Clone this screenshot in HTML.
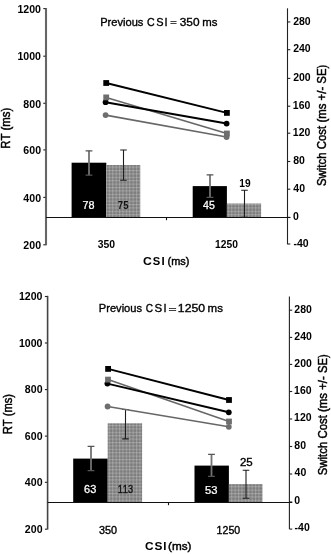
<!DOCTYPE html>
<html><head><meta charset="utf-8"><style>
html,body{margin:0;padding:0;background:#fff;width:331px;height:554px;overflow:hidden}
svg{display:block;will-change:transform}
text{font-family:"Liberation Sans", sans-serif;font-kerning:none}
</style></head><body>
<svg width="331" height="554" viewBox="0 0 331 554">
<defs>
<pattern id="dots" width="3.4" height="3.4" patternUnits="userSpaceOnUse">
<rect width="3.4" height="3.4" fill="#7c7c7c"/>
<rect width="1.1" height="3.4" fill="#9a9a9a"/>
<rect width="3.4" height="1.1" fill="#9a9a9a"/>
<rect width="1.1" height="1.1" fill="#b0b0b0"/>
</pattern>
</defs>
<line x1="46.00" y1="8.00" x2="46.00" y2="245.30" stroke="#666" stroke-width="2.1"/>
<line x1="43.30" y1="8.60" x2="45.50" y2="8.60" stroke="#222" stroke-width="1.1"/>
<text transform="translate(17.45 12.80) scale(1.0600 1)" font-size="10" font-weight="bold" fill="#000">1200</text>
<line x1="43.30" y1="56.20" x2="45.50" y2="56.20" stroke="#222" stroke-width="1.1"/>
<text transform="translate(17.45 60.40) scale(1.0600 1)" font-size="10" font-weight="bold" fill="#000">1000</text>
<line x1="43.30" y1="103.30" x2="45.50" y2="103.30" stroke="#222" stroke-width="1.1"/>
<text transform="translate(23.35 107.50) scale(1.0600 1)" font-size="10" font-weight="bold" fill="#000">800</text>
<line x1="43.30" y1="149.90" x2="45.50" y2="149.90" stroke="#222" stroke-width="1.1"/>
<text transform="translate(23.35 154.10) scale(1.0600 1)" font-size="10" font-weight="bold" fill="#000">600</text>
<line x1="43.30" y1="197.40" x2="45.50" y2="197.40" stroke="#222" stroke-width="1.1"/>
<text transform="translate(23.35 201.60) scale(1.0600 1)" font-size="10" font-weight="bold" fill="#000">400</text>
<line x1="43.30" y1="244.80" x2="45.50" y2="244.80" stroke="#222" stroke-width="1.1"/>
<text transform="translate(23.35 249.00) scale(1.0600 1)" font-size="10" font-weight="bold" fill="#000">200</text>
<line x1="287.50" y1="8.30" x2="287.50" y2="244.30" stroke="#222" stroke-width="1.1"/>
<line x1="287.50" y1="21.95" x2="290.30" y2="21.95" stroke="#222" stroke-width="1.1"/>
<text transform="translate(293.14 24.55) scale(1.0500 1)" font-size="10" font-weight="bold" fill="#000">280</text>
<line x1="287.50" y1="49.70" x2="290.30" y2="49.70" stroke="#222" stroke-width="1.1"/>
<text transform="translate(293.14 52.30) scale(1.0500 1)" font-size="10" font-weight="bold" fill="#000">240</text>
<line x1="287.50" y1="78.40" x2="290.30" y2="78.40" stroke="#222" stroke-width="1.1"/>
<text transform="translate(293.14 81.00) scale(1.0500 1)" font-size="10" font-weight="bold" fill="#000">200</text>
<line x1="287.50" y1="106.20" x2="290.30" y2="106.20" stroke="#222" stroke-width="1.1"/>
<text transform="translate(292.84 108.80) scale(1.0500 1)" font-size="10" font-weight="bold" fill="#000">160</text>
<line x1="287.50" y1="133.20" x2="290.30" y2="133.20" stroke="#222" stroke-width="1.1"/>
<text transform="translate(292.84 135.80) scale(1.0500 1)" font-size="10" font-weight="bold" fill="#000">120</text>
<line x1="287.50" y1="161.50" x2="290.30" y2="161.50" stroke="#222" stroke-width="1.1"/>
<text transform="translate(293.17 164.10) scale(1.0500 1)" font-size="10" font-weight="bold" fill="#000">80</text>
<line x1="287.50" y1="189.20" x2="290.30" y2="189.20" stroke="#222" stroke-width="1.1"/>
<text transform="translate(293.34 191.80) scale(1.0500 1)" font-size="10" font-weight="bold" fill="#000">40</text>
<line x1="287.50" y1="217.40" x2="290.30" y2="217.40" stroke="#222" stroke-width="1.1"/>
<text transform="translate(293.08 220.00) scale(1.0500 1)" font-size="10" font-weight="bold" fill="#000">0</text>
<line x1="287.50" y1="244.00" x2="290.30" y2="244.00" stroke="#222" stroke-width="1.1"/>
<text transform="translate(293.39 246.60) scale(1.0500 1)" font-size="10" font-weight="bold" fill="#000">-40</text>
<rect x="71.60" y="162.70" width="34.70" height="54.80" fill="#000"/>
<rect x="106.40" y="165.00" width="33.90" height="52.50" fill="url(#dots)"/>
<rect x="192.70" y="186.10" width="34.20" height="31.40" fill="#000"/>
<rect x="226.90" y="203.50" width="34.20" height="14.00" fill="url(#dots)"/>
<line x1="46.00" y1="217.50" x2="290.30" y2="217.50" stroke="#111" stroke-width="1.1"/>
<line x1="166.50" y1="217.50" x2="166.50" y2="220.20" stroke="#111" stroke-width="1.1"/>
<path d="M89.0 150.8V175.2" stroke="#727272" stroke-width="1.8" fill="none"/>
<path d="M85.6 150.8H92.4M85.6 175.2H92.4" stroke="#555" stroke-width="1.3" fill="none"/>
<path d="M123.5 150.0V180.3M120.2 150.0H126.8M120.2 180.3H126.8" stroke="#1e1e1e" stroke-width="1.1" fill="none"/>
<path d="M210.0 174.8V197.4" stroke="#727272" stroke-width="1.8" fill="none"/>
<path d="M206.6 174.8H213.4M206.6 197.4H213.4" stroke="#555" stroke-width="1.3" fill="none"/>
<path d="M244.5 190.3V217.3M241.2 190.3H247.8M241.2 217.3H247.8" stroke="#1e1e1e" stroke-width="1.1" fill="none"/>
<line x1="106.20" y1="97.40" x2="226.90" y2="133.50" stroke="#676767" stroke-width="1.6"/>
<line x1="105.60" y1="115.10" x2="226.60" y2="137.00" stroke="#676767" stroke-width="1.6"/>
<line x1="106.20" y1="83.00" x2="226.90" y2="112.90" stroke="#000" stroke-width="2"/>
<line x1="105.60" y1="102.20" x2="226.60" y2="123.60" stroke="#000" stroke-width="2"/>
<circle cx="105.60" cy="102.20" r="2.9" fill="#000"/>
<circle cx="226.60" cy="123.60" r="2.9" fill="#000"/>
<circle cx="105.60" cy="115.10" r="2.9" fill="#6e6e6e"/>
<circle cx="226.60" cy="137.00" r="2.9" fill="#6e6e6e"/>
<rect x="103.30" y="80.10" width="5.80" height="5.80" fill="#000"/>
<rect x="224.00" y="110.00" width="5.80" height="5.80" fill="#000"/>
<rect x="103.30" y="94.50" width="5.80" height="5.80" fill="#6e6e6e"/>
<rect x="224.00" y="130.60" width="5.80" height="5.80" fill="#6e6e6e"/>
<text transform="translate(82.45 208.50) scale(1.0810 1.0)" font-size="10" font-weight="normal" fill="#fff" stroke="#fff" stroke-width="0.25">78</text>
<text transform="translate(117.79 208.60) scale(0.9602 1.0)" font-size="10" font-weight="bold" fill="#111">75</text>
<text transform="translate(203.06 208.70) scale(1.0598 1.0)" font-size="10" font-weight="normal" fill="#fff" stroke="#fff" stroke-width="0.25">45</text>
<text transform="translate(239.36 187.20) scale(1.0176 1.0)" font-size="10" font-weight="bold" fill="#000">19</text>
<text transform="translate(100.19 25.60) scale(1.0097 1.0)" font-size="11" font-weight="normal" fill="#000" stroke="#000" stroke-width="0.35">Previous</text>
<text transform="translate(146.96 25.60) scale(0.9618 1.0)" font-size="11" font-weight="normal" fill="#000" stroke="#000" stroke-width="0.35">C</text>
<text transform="translate(156.20 25.60) scale(0.9949 1.0)" font-size="11" font-weight="normal" fill="#000" stroke="#000" stroke-width="0.35">S</text>
<text transform="translate(164.62 25.60) scale(1.0000 1.0)" font-size="11" font-weight="normal" fill="#000" stroke="#000" stroke-width="0.35">I</text>
<text transform="translate(170.36 25.33) scale(1.0104 0.85)" font-size="11" font-weight="normal" fill="#000" stroke="#000" stroke-width="0.35">=</text>
<text transform="translate(179.75 25.60) scale(1.0797 1.0)" font-size="11" font-weight="normal" fill="#000" stroke="#000" stroke-width="0.35">350</text>
<text transform="translate(202.34 25.60) scale(1.0343 1.0)" font-size="11" font-weight="normal" fill="#000" stroke="#000" stroke-width="0.35">ms</text>
<text transform="translate(97.66 248.10) scale(1.0408 1.0)" font-size="10" font-weight="bold" fill="#000">350</text>
<text transform="translate(215.05 248.10) scale(1.0280 1.0)" font-size="10" font-weight="bold" fill="#000">1250</text>
<text transform="translate(143.10 265.00) scale(1.0640 1.0)" font-size="11.5" font-weight="bold" fill="#000">C</text>
<text transform="translate(152.68 265.00) scale(0.9724 1.0)" font-size="11.5" font-weight="bold" fill="#000">S</text>
<text transform="translate(161.50 265.00) scale(1.0000 1.0)" font-size="11.5" font-weight="bold" fill="#000">I</text>
<text transform="translate(167.62 265.00) scale(0.9507 1.0)" font-size="11.5" font-weight="normal" fill="#000" stroke="#000" stroke-width="0.45">(ms)</text>
<text transform="translate(9.60 148.73) rotate(-90) scale(0.9473 1)" font-size="12" font-weight="normal" fill="#000" stroke="#000" stroke-width="0.45">RT (ms)</text>
<text transform="translate(325.70 186.02) rotate(-90) scale(0.9518 1)" font-size="12" font-weight="normal" fill="#000" stroke="#000" stroke-width="0.45">Switch Cost (ms +/- SE)</text>
<line x1="47.60" y1="295.80" x2="47.60" y2="529.60" stroke="#444" stroke-width="1.6"/>
<line x1="44.90" y1="296.50" x2="47.10" y2="296.50" stroke="#222" stroke-width="1.1"/>
<text transform="translate(18.95 300.20) scale(1.0600 1)" font-size="10" font-weight="bold" fill="#000">1200</text>
<line x1="44.90" y1="343.00" x2="47.10" y2="343.00" stroke="#222" stroke-width="1.1"/>
<text transform="translate(18.95 346.70) scale(1.0600 1)" font-size="10" font-weight="bold" fill="#000">1000</text>
<line x1="44.90" y1="389.60" x2="47.10" y2="389.60" stroke="#222" stroke-width="1.1"/>
<text transform="translate(24.85 393.30) scale(1.0600 1)" font-size="10" font-weight="bold" fill="#000">800</text>
<line x1="44.90" y1="436.10" x2="47.10" y2="436.10" stroke="#222" stroke-width="1.1"/>
<text transform="translate(24.85 439.80) scale(1.0600 1)" font-size="10" font-weight="bold" fill="#000">600</text>
<line x1="44.90" y1="482.30" x2="47.10" y2="482.30" stroke="#222" stroke-width="1.1"/>
<text transform="translate(24.85 486.00) scale(1.0600 1)" font-size="10" font-weight="bold" fill="#000">400</text>
<line x1="44.90" y1="529.20" x2="47.10" y2="529.20" stroke="#222" stroke-width="1.1"/>
<text transform="translate(24.85 532.90) scale(1.0600 1)" font-size="10" font-weight="bold" fill="#000">200</text>
<line x1="289.40" y1="296.40" x2="289.40" y2="529.10" stroke="#222" stroke-width="1.1"/>
<line x1="289.40" y1="310.20" x2="292.20" y2="310.20" stroke="#222" stroke-width="1.1"/>
<text transform="translate(294.34 312.50) scale(1.0500 1)" font-size="10" font-weight="bold" fill="#000">280</text>
<line x1="289.40" y1="337.40" x2="292.20" y2="337.40" stroke="#222" stroke-width="1.1"/>
<text transform="translate(294.34 339.70) scale(1.0500 1)" font-size="10" font-weight="bold" fill="#000">240</text>
<line x1="289.40" y1="364.40" x2="292.20" y2="364.40" stroke="#222" stroke-width="1.1"/>
<text transform="translate(294.34 366.70) scale(1.0500 1)" font-size="10" font-weight="bold" fill="#000">200</text>
<line x1="289.40" y1="391.50" x2="292.20" y2="391.50" stroke="#222" stroke-width="1.1"/>
<text transform="translate(294.04 393.80) scale(1.0500 1)" font-size="10" font-weight="bold" fill="#000">160</text>
<line x1="289.40" y1="419.00" x2="292.20" y2="419.00" stroke="#222" stroke-width="1.1"/>
<text transform="translate(294.04 421.30) scale(1.0500 1)" font-size="10" font-weight="bold" fill="#000">120</text>
<line x1="289.40" y1="446.50" x2="292.20" y2="446.50" stroke="#222" stroke-width="1.1"/>
<text transform="translate(294.37 448.80) scale(1.0500 1)" font-size="10" font-weight="bold" fill="#000">80</text>
<line x1="289.40" y1="474.00" x2="292.20" y2="474.00" stroke="#222" stroke-width="1.1"/>
<text transform="translate(294.54 476.30) scale(1.0500 1)" font-size="10" font-weight="bold" fill="#000">40</text>
<line x1="289.40" y1="502.00" x2="292.20" y2="502.00" stroke="#222" stroke-width="1.1"/>
<text transform="translate(294.28 504.30) scale(1.0500 1)" font-size="10" font-weight="bold" fill="#000">0</text>
<line x1="289.40" y1="529.10" x2="292.20" y2="529.10" stroke="#222" stroke-width="1.1"/>
<text transform="translate(294.59 531.40) scale(1.0500 1)" font-size="10" font-weight="bold" fill="#000">-40</text>
<rect x="73.20" y="458.60" width="34.50" height="43.90" fill="#000"/>
<rect x="107.70" y="423.30" width="34.40" height="79.20" fill="url(#dots)"/>
<rect x="194.50" y="465.60" width="34.40" height="36.90" fill="#000"/>
<rect x="228.90" y="484.10" width="33.60" height="18.40" fill="url(#dots)"/>
<line x1="47.60" y1="502.50" x2="292.20" y2="502.50" stroke="#111" stroke-width="1.1"/>
<line x1="168.50" y1="502.50" x2="168.50" y2="505.20" stroke="#111" stroke-width="1.1"/>
<path d="M91.0 446.3V470.7" stroke="#727272" stroke-width="1.8" fill="none"/>
<path d="M87.6 446.3H94.4M87.6 470.7H94.4" stroke="#555" stroke-width="1.3" fill="none"/>
<path d="M125.5 409.5V438.9M122.2 409.5H128.8M122.2 438.9H128.8" stroke="#1e1e1e" stroke-width="1.1" fill="none"/>
<path d="M211.5 454.3V476.4" stroke="#727272" stroke-width="1.8" fill="none"/>
<path d="M208.1 454.3H214.9M208.1 476.4H214.9" stroke="#555" stroke-width="1.3" fill="none"/>
<path d="M246.0 470.3V498.3M242.7 470.3H249.3M242.7 498.3H249.3" stroke="#1e1e1e" stroke-width="1.1" fill="none"/>
<line x1="108.00" y1="379.60" x2="229.00" y2="421.50" stroke="#676767" stroke-width="1.6"/>
<line x1="107.60" y1="406.50" x2="228.80" y2="426.80" stroke="#676767" stroke-width="1.6"/>
<line x1="108.10" y1="368.90" x2="229.00" y2="400.00" stroke="#000" stroke-width="2"/>
<line x1="107.40" y1="383.60" x2="228.80" y2="412.30" stroke="#000" stroke-width="2"/>
<circle cx="107.40" cy="383.60" r="2.9" fill="#000"/>
<circle cx="228.80" cy="412.30" r="2.9" fill="#000"/>
<circle cx="107.60" cy="406.50" r="2.9" fill="#6e6e6e"/>
<circle cx="228.80" cy="426.80" r="2.9" fill="#6e6e6e"/>
<rect x="105.20" y="366.00" width="5.80" height="5.80" fill="#000"/>
<rect x="226.10" y="397.10" width="5.80" height="5.80" fill="#000"/>
<rect x="105.10" y="376.70" width="5.80" height="5.80" fill="#6e6e6e"/>
<rect x="226.10" y="418.60" width="5.80" height="5.80" fill="#6e6e6e"/>
<text transform="translate(84.04 493.30) scale(1.1007 1.0)" font-size="10" font-weight="normal" fill="#fff" stroke="#fff" stroke-width="0.25">63</text>
<text transform="translate(117.70 493.40) scale(0.9171 1.0)" font-size="10" font-weight="normal" fill="#111" stroke="#111" stroke-width="0.35">113</text>
<text transform="translate(204.95 493.60) scale(1.1183 1.0)" font-size="10" font-weight="normal" fill="#fff" stroke="#fff" stroke-width="0.25">53</text>
<text transform="translate(239.92 465.90) scale(1.1470 1.0)" font-size="10" font-weight="normal" fill="#000" stroke="#000" stroke-width="0.35">25</text>
<text transform="translate(98.79 312.20) scale(1.0121 1.0)" font-size="11" font-weight="normal" fill="#000" stroke="#000" stroke-width="0.35">Previous</text>
<text transform="translate(145.69 312.20) scale(0.9187 1.0)" font-size="11" font-weight="normal" fill="#000" stroke="#000" stroke-width="0.35">C</text>
<text transform="translate(154.38 312.20) scale(1.0422 1.0)" font-size="11" font-weight="normal" fill="#000" stroke="#000" stroke-width="0.35">S</text>
<text transform="translate(163.57 312.20) scale(1.0000 1.0)" font-size="11" font-weight="normal" fill="#000" stroke="#000" stroke-width="0.35">I</text>
<text transform="translate(168.43 311.70) scale(1.2537 0.85)" font-size="11" font-weight="normal" fill="#000" stroke="#000" stroke-width="0.35">=</text>
<text transform="translate(177.87 312.20) scale(1.1119 1.0)" font-size="11" font-weight="normal" fill="#000" stroke="#000" stroke-width="0.35">1250</text>
<text transform="translate(207.53 312.20) scale(1.0491 1.0)" font-size="11" font-weight="normal" fill="#000" stroke="#000" stroke-width="0.35">ms</text>
<text transform="translate(98.99 533.60) scale(1.0809 1.0)" font-size="10" font-weight="normal" fill="#000" stroke="#000" stroke-width="0.35">350</text>
<text transform="translate(216.59 533.60) scale(1.0619 1.0)" font-size="10" font-weight="normal" fill="#000" stroke="#000" stroke-width="0.35">1250</text>
<text transform="translate(144.91 549.90) scale(1.0374 1.0)" font-size="11.5" font-weight="bold" fill="#000">C</text>
<text transform="translate(154.46 549.90) scale(1.0305 1.0)" font-size="11.5" font-weight="bold" fill="#000">S</text>
<text transform="translate(163.20 549.90) scale(1.0000 1.0)" font-size="11.5" font-weight="bold" fill="#000">I</text>
<text transform="translate(168.07 549.90) scale(1.0203 1.0)" font-size="11.5" font-weight="normal" fill="#000" stroke="#000" stroke-width="0.45">(ms)</text>
<text transform="translate(11.60 434.32) rotate(-90) scale(0.9329 1)" font-size="12" font-weight="normal" fill="#000" stroke="#000" stroke-width="0.45">RT (ms)</text>
<text transform="translate(327.00 475.22) rotate(-90) scale(0.9494 1)" font-size="12" font-weight="normal" fill="#000" stroke="#000" stroke-width="0.45">Switch Cost (ms +/- SE)</text>
</svg>
</body></html>
